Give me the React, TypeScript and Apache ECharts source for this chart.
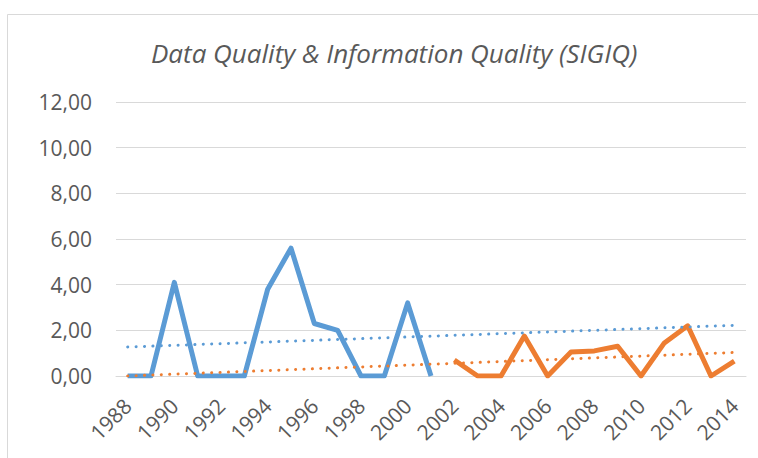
import React, { useEffect, useRef } from "react";
import * as echarts from "echarts";

const years = ["1988","1989","1990","1991","1992","1993","1994","1995","1996","1997","1998","1999","2000","2001","2002","2003","2004","2005","2006","2007","2008","2009","2010","2011","2012","2013","2014"];
const blueValues = [0, 0, 4.1, 0, 0, 0, 3.8, 5.6, 2.3, 2.0, 0, 0, 3.2, 0, null, null, null, null, null, null, null, null, null, null, null, null, null];
const orangeValues = [null, null, null, null, null, null, null, null, null, null, null, null, null, null, 0.7, 0, 0, 1.75, 0, 1.05, 1.1, 1.3, 0, 1.45, 2.2, 0, 0.65];
// trendline endpoints (first and last category)
const blueTrend = [1.27, ...Array(25).fill(null), 2.22];
const orangeTrend = [0.0, ...Array(25).fill(null), 1.03];
const yTicks = [0, 2, 4, 6, 8, 10, 12];

const BLUE = "#5B9BD5";
const ORANGE = "#ED7D31";
const FONT = "'Open Sans', 'Liberation Sans', sans-serif";

export default function App() {
  const ref = useRef<HTMLDivElement>(null);
  useEffect(() => {
    document.body.style.margin = "0";
    const chart = echarts.init(ref.current!, null, { renderer: "svg" });
    chart.setOption({
      animation: false,
      backgroundColor: "#ffffff",
      title: {
        text: "Data Quality & Information Quality (SIGIQ)",
        left: 146,
        top: 35,
        textStyle: { fontFamily: FONT, fontStyle: "italic", fontWeight: "normal", fontSize: 26, color: "#595959" },
      },
      graphic: [
        { type: "rect", shape: { x: 7.5, y: 14.5, width: 800, height: 500 }, style: { fill: "none", stroke: "#D9D9D9", lineWidth: 1 }, silent: true, z: -1 },
      ],
      grid: { left: 116, right: 12, top: 102, bottom: 82 },
      xAxis: {
        type: "category",
        data: years,
        boundaryGap: true,
        axisLine: { show: true, lineStyle: { color: "#D9D9D9", width: 1 } },
        axisTick: { show: false },
        axisLabel: { interval: 1, rotate: 45, margin: 26, fontFamily: FONT, fontSize: 21, color: "#595959" },
      },
      yAxis: {
        type: "value",
        min: yTicks[0],
        max: yTicks[yTicks.length - 1],
        interval: 2,
        axisLine: { show: false },
        axisTick: { show: false },
        splitLine: { lineStyle: { color: "#D9D9D9", width: 1 } },
        axisLabel: { formatter: (v: number) => v.toFixed(2).replace(".", ","), margin: 24, fontFamily: FONT, fontSize: 21, color: "#595959" },
      },
      series: [
        { type: "line", data: blueValues, symbol: "none", lineStyle: { color: BLUE, width: 5, join: "round" }, z: 3 },
        { type: "line", data: orangeValues, symbol: "none", lineStyle: { color: ORANGE, width: 5, join: "round" }, z: 3 },
        { type: "line", data: blueTrend, connectNulls: true, symbol: "none", lineStyle: { color: BLUE, width: 3, type: [0.1, 8.3], cap: "round" }, z: 4 },
        { type: "line", data: orangeTrend, connectNulls: true, symbol: "none", lineStyle: { color: ORANGE, width: 3, type: [0.1, 8.3], cap: "round" }, z: 4 },
      ],
    });
    return () => chart.dispose();
  }, []);
  return <div ref={ref} style={{ width: 758, height: 458 }} />;
}
